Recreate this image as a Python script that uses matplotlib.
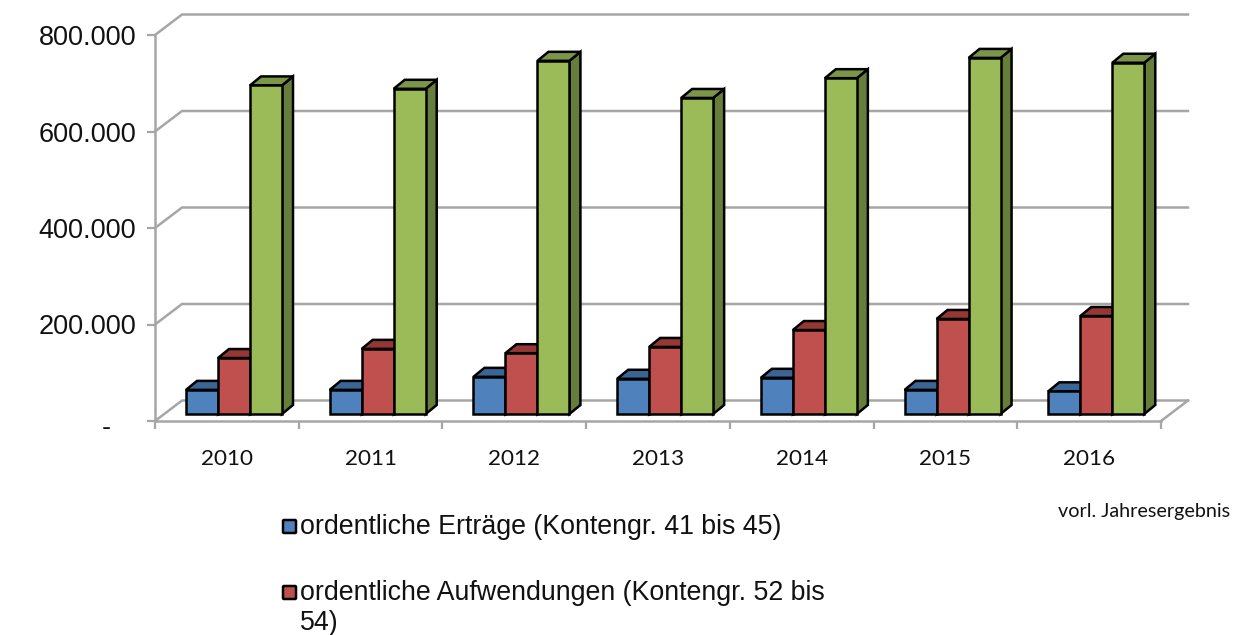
from matplotlib import pyplot as plt
from matplotlib.patches import FancyBboxPatch, Polygon, Rectangle
from matplotlib.transforms import ScaledTranslation

years = ['2010', '2011', '2012', '2013', '2014', '2015', '2016']
ertraege = [50000, 50000, 77000, 73000, 75000, 50000, 47000]
aufwendungen = [116000, 135000, 126000, 139000, 174000, 197000, 203000]
dritte_reihe = [681000, 674000, 732000, 655000, 696000, 738000, 728000]
y_ticks = [0, 200000, 400000, 600000, 800000]
y_labels = ['-', '200.000', '400.000', '600.000', '800.000']

W, H = 1244, 635
GRID = '#a6a6a6'

# (front, top, side)
blue = ('#4f81bd', '#3a6595', '#385d8a')
red = ('#c0504d', '#953735', '#8c3836')
green = ('#9bbb59', '#7c9647', '#677e3a')

fig = plt.figure(figsize=(W / 100, H / 100), dpi=100)
ax = fig.add_axes([155 / W, (H - 421) / H, 1006 / W, 386 / H])
ax.set_xlim(0, 7)
ax.set_ylim(0, 800000)

# pixel sizes in data units
px_x = 7 / 1006
px_y = 800000 / 386
back_x, back_y = 27 * px_x, 20.5 * px_y   # depth of the floor
base_y = 7 * px_y                          # bars stand a bit behind the front edge
depth_x, depth_y = 11 * px_x, 9 * px_y     # depth of a bar
bar_w = 32 * px_x
start = 31 * px_x

for v in y_ticks:
    ax.plot([0, back_x, 7 + back_x], [v, v + back_y, v + back_y],
            color=GRID, lw=1.8, clip_on=False, zorder=1, solid_joinstyle='miter')
ax.plot([7, 7 + back_x], [0, back_y], color=GRID, lw=1.8, clip_on=False, zorder=1)


def draw_bar(x, v, cols):
    top = base_y + v
    ec = dict(edgecolor='black', lw=1.8, joinstyle='miter', clip_on=False, zorder=3)
    ax.add_patch(Polygon([(x + bar_w, base_y), (x + bar_w + depth_x, base_y + depth_y),
                          (x + bar_w + depth_x, top + depth_y), (x + bar_w, top)],
                         facecolor=cols[2], **ec))
    ax.add_patch(Polygon([(x, top), (x + depth_x, top + depth_y),
                          (x + bar_w + depth_x, top + depth_y), (x + bar_w, top)],
                         facecolor=cols[1], **ec))
    ax.add_patch(Rectangle((x, base_y), bar_w, v, facecolor=cols[0], **ec))


for i in range(len(years)):
    draw_bar(i + start, ertraege[i], blue)
    draw_bar(i + start + bar_w, aufwendungen[i], red)
    draw_bar(i + start + 2 * bar_w, dritte_reihe[i], green)

for side in ['top', 'right']:
    ax.spines[side].set_visible(False)
for side in ['left', 'bottom']:
    ax.spines[side].set_color(GRID)
    ax.spines[side].set_linewidth(1.8)
    ax.spines[side].set_zorder(2)

ax.set_yticks(y_ticks)
ax.set_yticklabels(y_labels, family='Liberation Sans', fontsize=19.5, color='#111111')
ax.tick_params(axis='y', length=6, width=1.6, color=GRID, pad=7.5)

# the dash for zero sits further left and lower than the numbers
dash = ax.get_yticklabels()[0]
dash.set_transform(dash.get_transform() + ScaledTranslation(-0.25, -0.04, fig.dpi_scale_trans))

ax.set_xticks(range(8))
ax.set_xticklabels([])
ax.tick_params(axis='x', length=6, width=1.6, color=GRID)
for i, year in enumerate(years):
    ax.text(i + 0.5, -0.098, year, transform=ax.get_xaxis_transform(), ha='center', va='center',
            family='Lato', fontsize=16.2, color='#111111')

fig.text(1058 / W, 1 - 512 / H, 'vorl. Jahresergebnis', family='Lato', fontsize=14.2,
         color='#111111', va='center')

# legend, third entry is cut off in the original
legend_rows = [(blue[0], 526, 'ordentliche Erträge (Kontengr. 41 bis 45)'),
               (red[0], 592, 'ordentliche Aufwendungen (Kontengr. 52 bis')]
for col, y, label in legend_rows:
    fig.add_artist(FancyBboxPatch((283, H - y - 7), 13, 13, boxstyle='round,pad=0,rounding_size=1',
                                  facecolor=col, edgecolor='black', lw=1.8, transform=None))
    fig.text(300 / W, 1 - (y + 1) / H, label, family='Liberation Sans', fontsize=19.25,
             color='#111111', va='center')
fig.text(300 / W, 1 - 623 / H, '54)', family='Liberation Sans', fontsize=19.25,
         color='#111111', va='center')

fig.savefig('out.png', dpi=100)
